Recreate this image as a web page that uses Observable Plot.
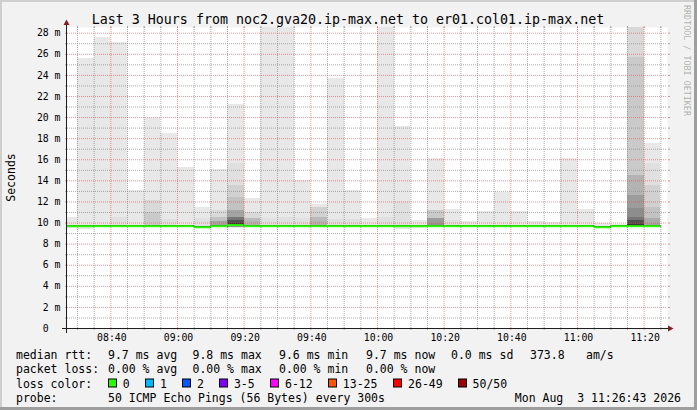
<!DOCTYPE html>
<html><head><meta charset="utf-8">
<script src="https://cdn.jsdelivr.net/npm/d3@7"></script>
<script src="https://cdn.jsdelivr.net/npm/@observablehq/plot@0.6"></script>
<style>
html,body{margin:0;padding:0;background:#f2f2f2;}
#chart{width:697px;height:410px;}
</style></head><body><div id="chart"></div>
<script>
// ---------------- DATA ----------------
const DAY = "2026-08-03";
const titleText = "Last 3 Hours from noc2.gva20.ip-max.net to er01.col01.ip-max.net";
const yAxisTitle = "Seconds";
const watermark = "RRDTOOL / TOBI OETIKER";
// end time of each 5-minute step (smoke bar)
const barEnds = ["08:30","08:35","08:40","08:45","08:50","08:55","09:00","09:05","09:10","09:15",
  "09:20","09:25","09:30","09:35","09:40","09:45","09:50","09:55","10:00","10:05",
  "10:10","10:15","10:20","10:25","10:30","10:35","10:40","10:45","10:50","10:55",
  "11:00","11:05","11:10","11:15","11:20","11:25"];
// median RTT per step (ms)
const medianMs = [9.7,9.7,9.7,9.7,9.7,9.7,9.7,9.7,9.6,9.7,
  9.8,9.7,9.7,9.7,9.7,9.7,9.7,9.7,9.7,9.7,
  9.7,9.7,9.7,9.7,9.7,9.7,9.7,9.7,9.7,9.7,
  9.7,9.7,9.6,9.7,9.7,9.7];
// highest pings per step, descending (ms): max, 2nd highest, ...
const upperPings = [
  [10.55],
  [25.6],
  [27.6],
  [27.15, 10.5],
  [13.1],
  [19.95, 12.15, 12.15, 11.0, 11.0],
  [18.45, 10.3],
  [15.3],
  [11.5, 10.4],
  [15.1, 11.2, 11.2, 10.5, 10.5, 10.5, 10.1, 10.1, 10.1, 10.1],
  [21.2, 15.6, 13.55, 13.55, 12.45, 12.45, 11.2, 11.2, 11.2, 11.2, 10.55, 10.55, 10.55, 10.55, 10.55, 10.55, 10.25, 10.25, 10.25, 10.25, 10.25, 9.98, 9.98, 9.98, 9.98],
  [12.3, 11.0, 11.0, 10.4, 10.4, 10.4, 10.4, 10.1],
  [30.5, 10.4],
  [31.0, 10.5],
  [14.0, 10.4],
  [11.8, 11.5, 11.5, 11.5, 10.55, 10.55, 10.55, 10.1],
  [23.7, 10.3],
  [13.1, 10.3],
  [10.4],
  [30.0, 10.5],
  [19.15, 12.0],
  [10.25],
  [16.1, 11.2, 11.2, 11.2, 11.2, 10.4, 10.4, 10.4, 10.4, 10.4, 10.4, 9.95],
  [11.3, 10.2],
  [10.1],
  [11.1],
  [12.9],
  [11.05],
  [10.15],
  [10.05],
  [16.1],
  [11.3],
  [10.0],
  [9.85],
  [31.0, 30.0, 29.0, 25.7, 25.7, 14.5, 14.5, 14.5, 12.6, 12.6, 12.6, 11.35, 11.35, 10.55, 10.55, 10.55, 10.25, 10.25, 10.25, 10.25, 10.25, 9.9, 9.9, 9.85, 9.8],
  [17.5, 15.6, 13.55, 13.55, 11.5, 11.5, 10.4, 10.4, 10.4, 9.93]
];
// lowest pings per step, ascending (ms): min, 2nd lowest, ...
const lowerPings = [
  [9.5],[9.4],[],[],[],[],[],[],[9.5],[],
  [9.5, 9.55, 9.55, 9.55, 9.55, 9.6, 9.6, 9.6, 9.6, 9.6, 9.6, 9.6, 9.6],[],[],[],[],[],[],[],[],[],
  [9.4],[9.45],[],[],[],[],[],[],[],[],
  [],[],[9.55],[],[],[]
];
const yLabelValues = [0,2,4,6,8,10,12,14,16,18,20,22,24,26,28];
const yMinorValues = [1,3,5,7,9,11,13,15,17,19,21,23,25,27];
const xMajorTimes = ["08:40","09:00","09:20","09:40","10:00","10:20","10:40","11:00","11:20"];
const xStart = "08:27", xEnd = "11:27";

const rttLabel = "median rtt:";
const rttStats = ["9.7 ms avg","9.8 ms max","9.6 ms min","9.7 ms now","0.0 ms sd","373.8","am/s"];
const lossLabel = "packet loss:";
const lossStats = ["0.00 % avg","0.00 % max","0.00 % min","0.00 % now"];
const lossColorLabel = "loss color:";
const lossBuckets = ["0","1","2","3-5","6-12","13-25","26-49","50/50"];
const lossColors = ["#26ff00","#00b8ff","#0059ff","#7e00ff","#ff00ff","#ff5500","#ff0000","#a10000"];
const probeLabel = "probe:";
const probeText = "50 ICMP Echo Pings (56 Bytes) every 300s";
const stamp = "Mon Aug  3 11:26:43 2026";

// ---------------- BUILD ----------------
const MONO = "DejaVu Sans Mono";
const t = s => new Date(`${DAY}T${s}:00Z`);
const FIVE = 5 * 60 * 1000;
const bars = barEnds.map((e, i) => ({end: t(e), start: new Date(t(e) - FIVE), median: medianMs[i]}));

const HALF = 25;
const layers = [];
for (let k = 1; k <= HALF; k++) {
  const c = Math.floor(190 / HALF * (HALF - k) + 1e-9) + 50;
  const col = `rgb(${c},${c},${c})`;
  bars.forEach((b, i) => {
    const top = upperPings[i][k - 1] ?? b.median + 0.05;
    const bot = lowerPings[i][k - 1] ?? b.median - 0.05;
    if (top > bot) layers.push({x1: b.start, x2: b.end, y1: bot, y2: top, fill: col});
  });
}
const stepPts = bars.flatMap(b => [{x: b.start, y: b.median}, {x: b.end, y: b.median}]);
const xMajor = xMajorTimes.map(t);
const xMinor = barEnds.filter(s => !xMajorTimes.includes(s)).map(t);

const GRID = "rgb(143,143,143)", MGRID = "rgb(222,79,79)";
const fmtY = v => v === 0 ? "0\u00a0\u00a0" : `${v} m`;
const tickAx = (fn, data, anchor, stroke, op) => fn(data, {anchor, tickSize: 2, tickFormat: () => "", label: null, stroke, strokeOpacity: op});

const chart = Plot.plot({
  width: 697, height: 410,
  marginLeft: 67, marginRight: 30, marginTop: 27, marginBottom: 82,
  x: {type: "utc", domain: [t(xStart), t(xEnd)], axis: null},
  y: {type: "linear", domain: [0, 28.54], axis: null},
  color: {type: "identity"},
  style: {background: "#f2f2f2", fontFamily: MONO, overflow: "visible"},
  marks: [
    Plot.frame({fill: "#ffffff", stroke: "none"}),
    Plot.rect(layers, {x1: "x1", x2: "x2", y1: "y1", y2: "y2", fill: "fill", clip: true, shapeRendering: "crispEdges"}),
    Plot.ruleY(yMinorValues, {stroke: GRID, strokeOpacity: 0.75, strokeDasharray: "1,1"}),
    Plot.ruleX(xMinor, {stroke: GRID, strokeOpacity: 0.75, strokeDasharray: "1,1"}),
    Plot.ruleY(yLabelValues.filter(v => v > 0), {stroke: MGRID, strokeOpacity: 0.6, strokeDasharray: "1,1"}),
    Plot.ruleX(xMajor, {stroke: MGRID, strokeOpacity: 0.6, strokeDasharray: "1,1"}),
    tickAx(Plot.axisY, yMinorValues, "left", GRID, 0.75),
    tickAx(Plot.axisY, yMinorValues, "right", GRID, 0.75),
    tickAx(Plot.axisY, yLabelValues, "left", MGRID, 0.6),
    tickAx(Plot.axisY, yLabelValues, "right", MGRID, 0.6),
    tickAx(Plot.axisX, xMinor, "bottom", GRID, 0.75),
    tickAx(Plot.axisX, xMinor, "top", GRID, 0.75),
    tickAx(Plot.axisX, xMajor, "bottom", MGRID, 0.6),
    tickAx(Plot.axisX, xMajor, "top", MGRID, 0.6),
    Plot.line(stepPts, {x: "x", y: "y", stroke: "#202020", strokeWidth: 1, clip: true}),
    Plot.ruleY(bars, {y: "median", x1: "start", x2: "end", stroke: lossColors[0], strokeWidth: 2, clip: true}),
    Plot.text(yLabelValues, {y: d => d, frameAnchor: "left", dx: -7, textAnchor: "end", text: fmtY, fontSize: 9.8, fontFamily: MONO, fill: "#000"}),
    Plot.text(xMajor, {x: d => d, frameAnchor: "bottom", dy: 12, dx: 1, text: d3.utcFormat("%H:%M"), fontSize: 9.8, fontFamily: MONO, fill: "#000"})
  ]
});
document.getElementById("chart").appendChild(chart);

// ---------------- DECORATION (axes, title, legend) ----------------
const svg = d3.select(chart);
const xs = chart.scale("x"), ys = chart.scale("y");
const X = v => xs.apply(v), Y = v => ys.apply(v);
const L = X(t(xStart)), R = X(t(xEnd)), B = Y(0), T = Y(ys.domain[1]);
const AXIS = "#1f1f1f", ARROW = "#801f1f";
svg.append("line").attr("x1", L - 5).attr("x2", R + 2).attr("y1", B + 0.5).attr("y2", B + 0.5).attr("stroke", AXIS);
svg.append("line").attr("x1", L - 0.5).attr("x2", L - 0.5).attr("y1", B + 5).attr("y2", T - 2).attr("stroke", AXIS);
svg.append("path").attr("d", `M${R + 1},${B - 2.5}L${R + 6.5},${B + 0.5}L${R + 1},${B + 3.5}Z`).attr("fill", ARROW);
svg.append("path").attr("d", `M${L - 3.5},${T - 2}L${L - 0.5},${T - 7.5}L${L + 2.5},${T - 2}Z`).attr("fill", ARROW);

// frame shading
svg.append("rect").attr("x", 0).attr("y", 0).attr("width", 697).attr("height", 2).attr("fill", "#cfcfcf");
svg.append("rect").attr("x", 0).attr("y", 0).attr("width", 2).attr("height", 410).attr("fill", "#cfcfcf");
svg.append("rect").attr("x", 0).attr("y", 407).attr("width", 697).attr("height", 3).attr("fill", "#9e9e9e");
svg.append("rect").attr("x", 694).attr("y", 0).attr("width", 3).attr("height", 410).attr("fill", "#9e9e9e");

const txt = (x, y, s, size, anchor = "start") => svg.append("text")
  .attr("x", x).attr("y", y).attr("font-family", MONO).attr("font-size", size)
  .attr("text-anchor", anchor).attr("fill", "#000").style("white-space", "pre").text(s);

txt(348, 23.5, titleText, 13.3, "middle");
svg.append("text").attr("transform", "translate(15,177.5) rotate(-90)").attr("text-anchor", "middle")
  .attr("font-family", MONO).attr("font-size", 11.5).attr("fill", "#000").text(yAxisTitle);
svg.append("text").attr("transform", "translate(684,5) rotate(90)").attr("text-anchor", "start")
  .attr("font-family", MONO).attr("font-size", 8.4).attr("fill", "rgba(0,0,0,0.3)").text(watermark);

const rowBase = [358.5, 373, 387.5, 402];
const FS = 11.5;
const statX = [108, 192.5, 279, 366, 451, 530, 586];
txt(16, rowBase[0], rttLabel, FS);
rttStats.forEach((s, i) => txt(statX[i], rowBase[0], s, FS));
txt(16, rowBase[1], lossLabel, FS);
lossStats.forEach((s, i) => txt(statX[i], rowBase[1], s, FS));
txt(16, rowBase[2], lossColorLabel, FS);
const boxX = [108, 145.3, 182.2, 219.1, 270.2, 328, 393.3, 457.8];
lossBuckets.forEach((s, i) => {
  svg.append("rect").attr("x", Math.round(boxX[i]) + 0.5).attr("y", rowBase[2] - 8.5).attr("width", 8).attr("height", 8)
    .attr("fill", lossColors[i]).attr("stroke", "#000").attr("stroke-width", 1);
  txt(boxX[i] + 14.8, rowBase[2], s, FS);
});
txt(16, rowBase[3], probeLabel, FS);
txt(108, rowBase[3], probeText, FS);
txt(681, rowBase[3], stamp, FS, "end");
</script></body></html>
